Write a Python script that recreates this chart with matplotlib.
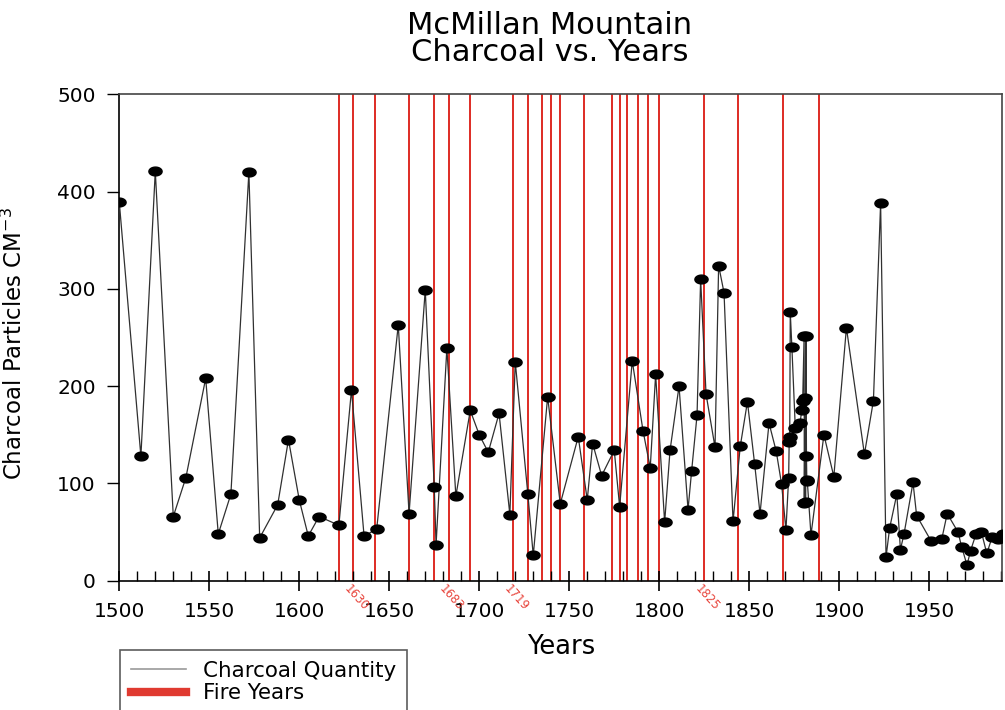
import numpy as np
import matplotlib
matplotlib.use("Agg")
import matplotlib.pyplot as plt
from matplotlib.path import Path
from matplotlib.lines import Line2D
from matplotlib.ticker import MultipleLocator
import matplotlib.transforms as mtransforms

# ---- data ----
years = [1500, 1512, 1520, 1530, 1537, 1548, 1555, 1562, 1572, 1578,
         1588, 1594, 1600, 1605, 1611, 1622, 1629, 1636, 1643, 1655,
         1661, 1670, 1675, 1676, 1682, 1687, 1695, 1700, 1705, 1711,
         1717, 1720, 1727, 1730, 1738, 1745, 1755, 1760, 1763, 1768,
         1775, 1778, 1785, 1791, 1795, 1798, 1803, 1806, 1811, 1816,
         1818, 1821, 1823, 1826, 1831, 1833, 1836, 1841, 1845, 1849,
         1853, 1856, 1861, 1865, 1868, 1870.4, 1871.9, 1872.2, 1872.5, 1872.8,
         1873.7, 1875.6, 1878.2, 1879.2, 1879.7, 1880.5, 1880.6, 1881.0, 1881.3, 1881.5,
         1881.8, 1882.0, 1882.2, 1884.3, 1891.5, 1897, 1904, 1914, 1919, 1923,
         1926, 1928, 1932, 1934, 1936, 1941, 1943, 1951, 1957, 1960,
         1966, 1968, 1971, 1973, 1976, 1979, 1982, 1985, 1988, 1991]
charcoal = [389, 128, 421, 66, 106, 208, 48, 89, 420, 44,
            78, 145, 83, 46, 66, 57, 196, 46, 53, 263,
            69, 299, 96, 37, 239, 87, 175, 150, 132, 172,
            68, 225, 89, 26, 189, 79, 148, 83, 141, 108,
            134, 76, 226, 154, 116, 212, 60, 134, 200, 73,
            113, 170, 310, 192, 137, 324, 296, 61, 138, 184,
            120, 69, 162, 133, 99, 52, 106, 143, 148, 276,
            240, 157, 162, 175, 185, 252, 80, 188, 81, 252,
            128, 102, 104, 47, 150, 107, 260, 130, 185, 388,
            24, 54, 89, 32, 48, 101, 67, 41, 43, 69,
            50, 35, 16, 31, 48, 50, 28, 45, 43, 48]

fire_years = [1622, 1630, 1642, 1661, 1675, 1683, 1695, 1719, 1727, 1735,
              1740, 1745, 1758, 1774, 1778, 1782, 1788, 1794, 1800, 1825,
              1844, 1869, 1889]
labeled_fire_years = [1630, 1683, 1719, 1825]

x_ticks = [1500, 1550, 1600, 1650, 1700, 1750, 1800, 1850, 1900, 1950]
y_ticks = [0, 100, 200, 300, 400, 500]

# ---- figure ----
fig = plt.figure(figsize=(10.05, 7.10), dpi=100)
ax = fig.add_axes([0.1187, 0.1821, 0.8786, 0.6851])

fire_color = "#de2b24"
for fy in fire_years:
    ax.axvline(fy, color=fire_color, lw=1.4, zorder=1)

# elliptical marker (wider than tall)
t = np.linspace(0, 2 * np.pi, 40)
ell = Path(np.column_stack([1.5 * np.cos(t), np.sin(t)]), closed=True)

ax.plot(years, charcoal, color="#303030", lw=0.9, marker=ell, ms=9.5,
        mfc="black", mec="black", zorder=3)

ax.set_xlim(1500, 1990.6)
ax.set_ylim(0, 500)
ax.set_xticks(x_ticks)
ax.set_yticks(y_ticks)
ax.xaxis.set_minor_locator(MultipleLocator(10))
ax.tick_params(axis="x", which="major", direction="inout", length=15, width=1.2,
               labelsize=14.5, pad=8)
ax.tick_params(axis="x", which="minor", direction="in", length=7, width=1.0)
ax.tick_params(axis="y", which="major", direction="out", length=9, width=1.0,
               labelsize=14.5, pad=8)
for s in ["left", "bottom"]:
    ax.spines[s].set_linewidth(1.2)
    ax.spines[s].set_color("black")
for s in ["top", "right"]:
    ax.spines[s].set_linewidth(1.2)
    ax.spines[s].set_color("#444444")

# fire year labels below axis
trans = mtransforms.blended_transform_factory(ax.transData, ax.transAxes)
for fy in labeled_fire_years:
    ax.text(fy + 1.5, -0.004, str(fy), transform=trans, rotation=-48,
            ha="center", va="top", fontsize=8.5, color="#e8453c")

ax.set_xlabel("Years", fontsize=18.5)
ax.xaxis.set_label_coords(0.5, -0.11)
ax.xaxis.label.set_va("top")
ax.set_ylabel("Charcoal Particles CM$^{-3}$", fontsize=16.5)
ax.yaxis.set_label_coords(-0.105, 0.487)

ax.set_title("McMillan Mountain\nCharcoal vs. Years", fontsize=22,
             x=0.487, y=1.155, va="top", linespacing=0.94)

handles = [Line2D([0], [0], color="#9a9a9a", lw=1.2),
           Line2D([0], [0], color="#e03a30", lw=6)]
leg = fig.legend(handles, ["Charcoal Quantity", "Fire Years"],
                 loc="upper left", bbox_to_anchor=(120 / 1005, 1 - 650 / 710),
                 fontsize=15.4, frameon=True, fancybox=False,
                 borderpad=0.5, labelspacing=0.12, handlelength=2.6,
                 handletextpad=0.8, borderaxespad=0)
leg.get_frame().set_edgecolor("#333333")
leg.get_frame().set_linewidth(1.2)

fig.savefig("out.png", dpi=100)
